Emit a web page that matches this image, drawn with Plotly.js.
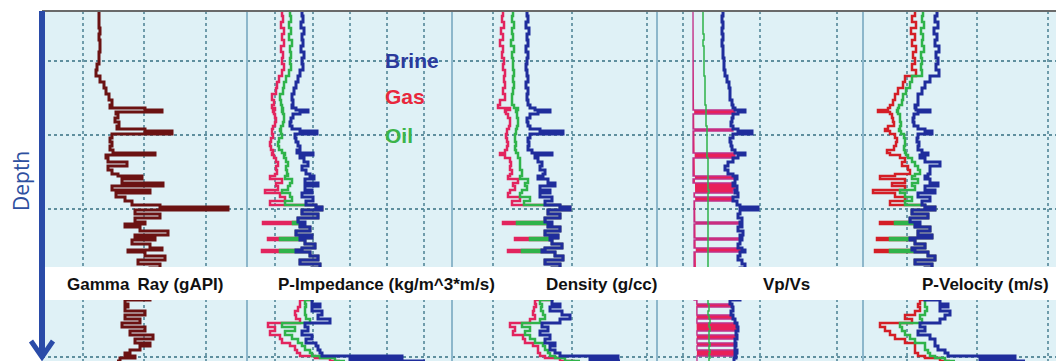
<!DOCTYPE html>
<html><head><meta charset="utf-8">
<script src="https://cdn.plot.ly/plotly-3.0.1.min.js"></script>
<style>html,body{margin:0;padding:0;background:#fff;}#chart{width:1056px;height:361px;}</style>
</head><body><div id="chart"></div>
<script>
// Relative depth below top of displayed interval
const DEPTH = [0,5,11,17,23,29,35,41,47,53,
 59,65,71,77,83,89,94,97,99,101,
 103,107,111,115,118,120,123,127,131,135,
 139,142,144,147,151,155,159,163,165,168,
 172,175,179,182,186,190,194,196,199,203,
 207,211,213,216,220,224,227,229,233,237,
 239,241,245,249,253,257,289,293,296,300,
 304,308,312,316,320,324,328,332,335,339,
 342,345,347,350];

// Track values in relative track units
const GAMMA_RAY = [57,57,57,58,57,58,58,57,57,55,
 54,58,62,64,67,70,68,103,120,74,
 76,73,77,75,103,130,70,68,70,68,
 71,113,64,66,85,66,70,76,100,80,
 121,70,108,74,83,90,118,186,93,118,
 93,103,83,98,126,93,113,90,108,120,
 86,103,123,96,118,108,83,86,83,103,
 83,98,80,103,88,111,93,108,98,88,
 83,93,78,75];

const PIMP_GAS = [35,36,34,37,35,37,34,36,35,37,
 35,32,30,29,25,27,25,28,26,27,
 28,29,28,26,25,25,26,24,23,24,
 26,25,27,29,31,29,30,28,23,35,
 29,31,18,33,38,23,69,75,55,71,
 51,16,53,63,49,65,21,58,68,55,
 15,63,71,53,73,65,53,53,51,48,
 49,53,21,28,23,33,35,43,48,50,
 53,68,83,93];
const PIMP_OIL = [43,44,42,44,42,45,43,44,43,44,
 42,39,37,36,33,34,35,36,35,36,
 37,37,36,34,33,34,35,32,31,32,
 35,38,37,39,41,39,40,41,38,45,
 43,41,35,43,45,38,69,75,55,71,
 51,46,53,63,49,65,33,58,68,55,
 33,63,71,53,73,65,58,59,58,58,
 59,63,35,48,38,45,51,55,58,63,
 65,73,88,98];
const PIMP_BRINE = [55,56,54,57,55,56,54,57,55,56,
 53,51,49,47,45,46,45,49,61,53,
 46,44,43,45,53,70,48,49,51,53,
 50,66,53,57,61,55,59,63,67,58,
 71,58,65,55,66,59,69,75,55,71,
 51,58,53,63,49,65,53,58,68,55,
 49,63,71,53,73,65,65,73,65,75,
 71,83,58,61,55,65,59,69,71,73,
 75,155,103,178];

const RHO_GAS = [51,50,52,49,51,48,51,50,52,51,
 53,52,53,51,53,48,46,58,53,54,
 56,58,58,57,55,55,54,55,56,55,
 53,48,53,58,59,58,60,58,56,66,
 61,63,58,56,68,60,108,118,96,108,
 93,51,96,108,93,106,63,100,110,93,
 56,103,111,93,108,100,83,84,82,81,
 83,78,58,63,61,71,73,81,86,86,
 88,93,108,123];
const RHO_OIL = [61,60,62,60,61,59,62,60,61,61,
 62,61,62,61,60,60,62,66,64,65,
 65,66,66,65,64,64,63,63,64,63,
 64,66,66,68,68,68,70,70,68,76,
 73,75,70,68,78,72,108,118,96,108,
 93,65,96,108,93,106,78,100,110,93,
 70,103,111,93,108,100,88,90,89,91,
 93,88,70,78,73,78,83,91,93,96,
 98,103,113,128];
const RHO_BRINE = [75,76,74,77,75,76,74,76,75,74,
 75,76,74,76,75,76,78,83,98,86,
 78,75,76,78,88,111,78,76,77,76,
 80,100,83,86,90,88,93,91,86,96,
 103,88,98,88,100,93,108,118,96,108,
 93,100,96,108,93,106,98,100,110,93,
 90,103,111,93,108,100,100,108,98,110,
 118,108,90,96,88,98,93,103,98,103,
 108,166,138,168];

const VPVS_GAS = [36,36,36,36,36,36,36,36,36,36,
 36,36,36,36,36,36,36,36,78,78,
 36,36,36,36,76,36,36,36,36,36,
 36,78,78,36,36,36,36,36,78,36,
 76,78,76,37,76,37,37,37,37,37,
 37,83,37,37,37,37,85,37,37,85,
 88,37,37,37,37,37,40,75,40,40,
 76,40,80,81,40,80,40,79,40,80,
 78,40,40,40];
const VPVS_OIL = [46,46,46,46,47,46,47,47,47,47,
 47,48,48,48,48,48,49,49,49,49,
 49,49,49,50,50,50,50,50,50,50,
 50,50,50,51,51,51,51,51,51,51,
 51,51,52,51,51,51,51,51,51,51,
 51,51,51,51,51,51,51,51,51,51,
 51,51,51,51,51,51,51,52,52,51,
 52,53,52,53,52,52,52,53,52,53,
 52,53,52,52];
const VPVS_BRINE = [66,65,66,65,66,65,66,66,67,67,
 68,70,72,73,73,75,76,78,88,81,
 76,75,74,76,81,95,76,73,74,75,
 78,88,81,76,71,68,71,76,80,78,
 76,80,78,81,76,80,83,101,83,81,
 85,83,85,81,86,83,85,83,81,85,
 88,83,81,85,88,83,73,75,76,74,
 76,78,80,81,79,80,78,79,78,80,
 78,79,77,78];

const VP_GAS = [52,49,53,48,52,49,53,50,52,49,
 53,42,40,35,32,30,27,25,15,27,
 29,30,31,25,22,27,32,34,33,31,
 24,27,37,42,39,45,47,32,17,42,
 29,42,10,32,42,27,62,72,49,65,
 47,17,52,67,55,69,14,52,62,49,
 12,65,72,52,69,62,57,55,57,52,
 42,49,17,22,27,32,42,52,52,52,
 55,62,77,87];
const VP_OIL = [60,59,61,58,60,59,61,58,59,58,
 59,49,47,43,40,39,36,35,34,35,
 37,37,38,37,36,38,41,42,42,41,
 42,43,45,49,52,55,57,52,49,55,
 49,52,37,42,49,42,62,72,49,65,
 47,32,52,67,55,69,27,52,62,49,
 27,65,72,52,69,62,62,62,64,62,
 57,59,37,39,42,47,52,62,62,65,
 67,72,82,92];
const VP_BRINE = [74,72,75,71,74,72,76,73,75,73,
 76,67,62,59,55,55,52,53,67,55,
 51,50,51,55,62,69,55,54,56,55,
 59,65,57,62,77,67,67,65,62,67,
 75,62,72,55,67,59,62,72,49,65,
 47,57,52,67,55,69,47,52,62,49,
 52,65,72,52,69,62,77,85,77,87,
 82,77,57,62,55,67,72,72,75,82,
 85,152,117,162];

const TRACK_TITLES = ['Gamma\u2009 Ray (gAPI)', 'P-Impedance (kg/m^3*m/s)', 'Density (g/cc)', 'Vp/Vs', 'P-Velocity (m/s)'];
const FLUIDS = ['Brine', 'Gas', 'Oil'];

// ---------- layout geometry (not data) ----------
const PW = 1014, PH = 350;
const EDGES = [0, 205, 410, 615, 821, 1014];
const dom = i => [EDGES[i] / PW, EDGES[i + 1] / PW];
const GRIDS = [[41,102,164],[28,66,103,140,177],[41,120,195],[26,103,180],[44,114,185]];
const px2x = p => (p - 42) / PW;
const px2y = p => (361 - p) / PH;

const C = {blue:'#1f2d9c', red:'#e2245e', green:'#2fb34a', vred:'#d41e26', gr:'#6b1212', mag:'#c0308a', fillred:'#e8205a'};

function tr(x, ax, color, width, extra) {
  return Object.assign({x: x, y: DEPTH, xaxis: ax, yaxis: 'y', type: 'scatter', mode: 'lines',
    line: {color: color, width: width, shape: 'vh'}, hoverinfo: 'skip', showlegend: false}, extra || {});
}
const traces = [
  tr(GAMMA_RAY, 'x', C.gr, 3),
  tr(PIMP_GAS, 'x2', C.red, 2.5), tr(PIMP_OIL, 'x2', C.green, 2.5), tr(PIMP_BRINE, 'x2', C.blue, 3),
  tr(RHO_GAS, 'x3', C.red, 2.5), tr(RHO_OIL, 'x3', C.green, 2.5), tr(RHO_BRINE, 'x3', C.blue, 3),
  tr(VPVS_GAS, 'x4', C.mag, 1.3, {fill: 'toself', fillcolor: C.fillred}),
  tr(VPVS_OIL, 'x4', C.green, 1.5), tr(VPVS_BRINE, 'x4', C.blue, 3),
  tr(VP_GAS, 'x5', C.vred, 2.5), tr(VP_OIL, 'x5', C.green, 2.5), tr(VP_BRINE, 'x5', C.blue, 3)
];

const layout = {
  width: 1056, height: 361, autosize: false,
  margin: {l: 42, r: 0, t: 11, b: 0, pad: 0},
  paper_bgcolor: '#ffffff', plot_bgcolor: '#dff1f6',
  showlegend: false,
  yaxis: {range: [350, 0], tickvals: [50,124,198,272,346], showticklabels: false, ticks: '',
          showgrid: true, gridcolor: '#5f8f9e', griddash: 'dot', gridwidth: 1.4, zeroline: false, showline: false, anchor: 'x'},
  shapes: [], annotations: []
};
for (let i = 0; i < 5; i++) {
  const key = i === 0 ? 'xaxis' : 'xaxis' + (i + 1);
  layout[key] = {domain: dom(i), range: [0, EDGES[i + 1] - EDGES[i]], anchor: 'y',
    tickvals: GRIDS[i], showticklabels: false, ticks: '', showgrid: true, gridcolor: '#6f9cab',
    griddash: 'dot', gridwidth: 1.3, zeroline: false, showline: false};
}
// track borders
for (let i = 1; i < 5; i++) {
  const xp = EDGES[i] / PW;
  layout.shapes.push({type: 'line', xref: 'paper', yref: 'paper', x0: xp, x1: xp, y0: 0, y1: 1,
    line: {color: '#8db7cb', width: 2}, layer: 'above'});
}
// top border
layout.shapes.push({type: 'line', xref: 'paper', yref: 'paper', x0: 0, x1: 1, y0: 1, y1: 1, line: {color: '#6a6a6a', width: 2}, layer: 'above'});
// white label band
layout.shapes.push({type: 'rect', xref: 'paper', yref: 'paper', x0: px2x(45), x1: 1, y0: px2y(300), y1: px2y(267),
  fillcolor: '#ffffff', line: {width: 0}, layer: 'above'});
// depth arrow
layout.shapes.push({type: 'line', xref: 'paper', yref: 'paper', x0: 0, x1: 0, y0: px2y(356), y1: 1,
  line: {color: '#2a4ba8', width: 6}, layer: 'above'});
layout.shapes.push({type: 'path', xref: 'paper', yref: 'paper',
  path: `M ${px2x(31)},${px2y(341)} L ${px2x(42)},${px2y(357)} L ${px2x(53)},${px2y(341)}`,
  line: {color: '#2a4ba8', width: 5}, layer: 'above'});

const labelCenters = [145, 386, 601, 786, 985];
TRACK_TITLES.forEach((t, i) => layout.annotations.push({text: t, xref: 'paper', yref: 'paper',
  x: px2x(labelCenters[i]), y: px2y(284), xanchor: 'center', yanchor: 'middle', showarrow: false,
  font: {family: 'Liberation Sans, Arial, sans-serif', size: 17, color: '#111111', weight: 700}}));

const fluidColors = {Brine: '#2b3a9c', Gas: '#e8283c', Oil: '#3cb44a'};
const fluidY = [60, 97, 135];
FLUIDS.forEach((f, i) => layout.annotations.push({text: f, xref: 'paper', yref: 'paper',
  x: px2x(383), y: px2y(fluidY[i]), xanchor: 'left', yanchor: 'middle', showarrow: false,
  font: {family: 'Liberation Sans, Arial, sans-serif', size: 21, color: fluidColors[f], weight: 700}}));

layout.annotations.push({text: 'Depth', xref: 'paper', yref: 'paper', x: px2x(21), y: px2y(181),
  xanchor: 'center', yanchor: 'middle', textangle: -90, showarrow: false,
  font: {family: 'Open Sans, sans-serif', size: 21, color: '#2e50a0'}});

Plotly.newPlot('chart', traces, layout, {staticPlot: true, displayModeBar: false});
</script></body></html>
